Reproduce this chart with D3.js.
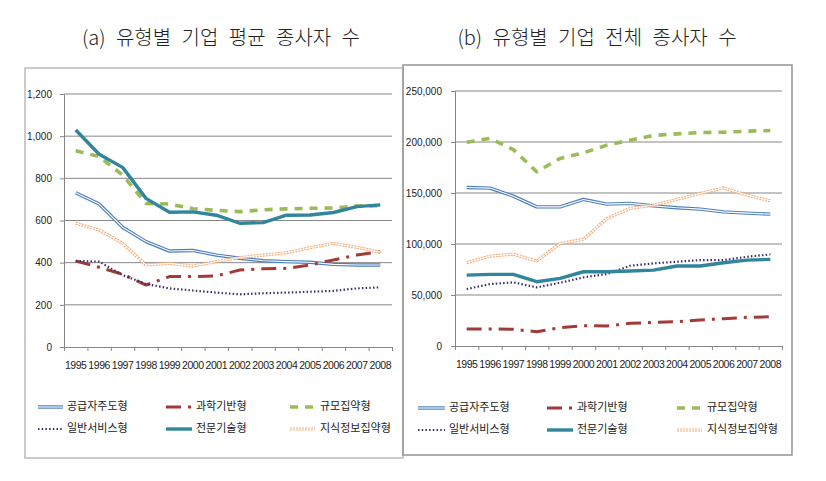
<!DOCTYPE html>
<html><head><meta charset="utf-8">
<script src="https://cdn.jsdelivr.net/npm/d3@7"></script>
<style>body{margin:0;background:#fff} svg{display:block}</style>
</head><body><svg id="c" width="826" height="481"></svg>
<script>
const years = ["1995","1996","1997","1998","1999","2000","2001","2002","2003","2004","2005","2006","2007","2008"];
const seriesNames = ["공급자주도형","과학기반형","규모집약형","일반서비스형","전문기술형","지식정보집약형"];

// (a) average employees per firm
const avgSupply    = [732,678,568,500,455,458,436,421,409,405,402,392,389,389];
const avgScience   = [408,378,345,294,334,334,337,365,371,373,389,413,436,452];
const avgScale     = [931,903,816,681,678,656,648,642,651,655,658,659,669,670];
const avgService   = [408,405,341,299,278,268,258,250,255,258,262,266,278,283];
const avgSpecial   = [1029,914,852,705,639,641,625,587,590,625,626,638,666,674];
const avgKnowledge = [587,555,492,389,397,384,405,424,436,447,471,492,473,449];

// (b) total employees
const totSupply    = [155400,154800,146900,136400,136400,143700,139100,139800,137400,135500,134200,131500,130300,129300];
const totScience   = [16700,16700,16300,14000,17900,19900,19600,22200,23200,23800,25500,26800,28100,28700];
const totScale     = [199700,203600,192500,170800,183900,189400,196900,201800,206400,208000,209300,209600,210600,211300];
const totService   = [55800,60700,62400,57500,62000,67300,70500,78700,81000,82600,84200,84200,87500,89800];
const totSpecial   = [69500,70200,70200,63000,66300,72800,72800,73500,74400,78400,78400,81600,84200,84900];
const totKnowledge = [81600,88100,90100,83300,100600,104500,125000,134900,138100,143700,149600,155000,147900,142300];

const avgTicks = [0,200,400,600,800,1000,1200];
const totTicks = [0,50000,100000,150000,200000,250000];

const titleA = "(a) 유형별 기업 평균 종사자 수";
const titleB = "(b) 유형별 기업 전체 종사자 수";

const styles = {
  "공급자주도형": [{stroke:"#4A7EBB", width:3.4}, {stroke:"#fff", width:1.1}],
  "과학기반형": [{stroke:"#A23B38", width:3, dash:"15,7,3,7"}],
  "규모집약형": [{stroke:"#9BBB59", width:3.6, dash:"8,7"}],
  "일반서비스형": [{stroke:"#3D2F6B", width:2.2, dash:"1.5,2.2"}],
  "전문기술형": [{stroke:"#31859C", width:3.4}],
  "지식정보집약형": [{stroke:"#F7AD78", width:3.2, dash:"2,1"}, {stroke:"#fff", width:1}]
};

const svg = d3.select("#c");
const FONT = "'Noto Sans CJK KR', 'Noto Sans', sans-serif";
const NUMF = "'Liberation Sans', Arial, sans-serif";

function drawChart(cfg) {
  const g = svg.append("g");
  g.append("rect").attr("x", cfg.box[0]).attr("y", cfg.box[1])
    .attr("width", cfg.box[2]-cfg.box[0]).attr("height", cfg.box[3]-cfg.box[1])
    .attr("fill", "none").attr("stroke", cfg.boxColor).attr("stroke-width", 1.6);

  const x = d3.scaleBand().domain(years).range([cfg.x0, cfg.x1]);
  const xb = d3.scaleLinear().domain([0, years.length]).range([cfg.x0, cfg.x1]);
  const y = d3.scaleLinear().domain([0, cfg.ymax]).range([cfg.y0, cfg.y1]);

  g.append("g").selectAll("line").data(cfg.ticks.filter(t => t > 0)).join("line")
    .attr("x1", cfg.x0).attr("x2", cfg.x1)
    .attr("y1", d => y(d)).attr("y2", d => y(d))
    .attr("stroke", "#868686").attr("stroke-width", 1);

  const ya = g.append("g").attr("transform", `translate(${cfg.x0},0)`)
    .call(d3.axisLeft(y).tickValues(cfg.ticks).tickSize(4).tickPadding(cfg.ypad).tickFormat(d3.format(",")));
  ya.select(".domain").attr("stroke", "#868686");
  ya.selectAll(".tick line").attr("stroke", "#868686");
  ya.selectAll("text").attr("font-family", NUMF).attr("font-size", 10).attr("fill", "#222");

  const xa = g.append("g").attr("transform", `translate(0,${cfg.y0})`)
    .call(d3.axisBottom(xb).tickValues(d3.range(0, years.length + 1)).tickSize(4).tickFormat(""));
  xa.select(".domain").attr("stroke", "#868686");
  xa.selectAll(".tick line").attr("stroke", "#868686");
  const xl = g.append("g").attr("transform", `translate(0,${cfg.y0})`)
    .call(d3.axisBottom(x).tickSize(0).tickPadding(15));
  xl.select(".domain").remove();
  xl.selectAll("text").attr("font-family", NUMF).attr("font-size", 10.5).attr("fill", "#222")
    .attr("letter-spacing", "-0.45px");

  const line = d3.line().x((d, i) => x(years[i]) + x.bandwidth() / 2).y(d => y(d));
  cfg.data.forEach((vals, k) => {
    const name = seriesNames[k];
    styles[name].forEach(s => {
      g.append("path").attr("d", line(vals)).attr("fill", "none")
        .attr("stroke", s.stroke).attr("stroke-width", s.width)
        .attr("stroke-dasharray", s.dash || null)
        .attr("stroke-linejoin", "round");
    });
  });

  svg.append("text").attr("x", cfg.titleX).attr("y", 45).attr("text-anchor", "middle")
    .attr("font-family", FONT).attr("font-size", 20).attr("font-weight", 300)
    .attr("word-spacing", "6px").attr("fill", "#222").text(cfg.title);

  const lg = g.append("g");
  seriesNames.forEach((name, k) => {
    const col = k % 3, row = Math.floor(k / 3);
    const sx = cfg.legCols[col][0], ex = cfg.legCols[col][1], tx = cfg.legCols[col][2];
    const ly = cfg.legRows[row];
    styles[name].forEach(s => {
      lg.append("line").attr("x1", sx).attr("x2", ex).attr("y1", ly).attr("y2", ly)
        .attr("stroke", s.stroke).attr("stroke-width", s.width)
        .attr("stroke-dasharray", s.dash || null);
    });
    lg.append("text").attr("x", tx).attr("y", ly).attr("dominant-baseline", "middle")
      .attr("font-family", FONT).attr("font-size", 11).attr("fill", "#222").text(name);
  });
}

drawChart({
  box: [25, 68, 403, 458], boxColor: "#BFBFBF",
  x0: 64, x1: 392, y0: 347, y1: 94, ymax: 1200, ticks: avgTicks, ypad: 8,
  data: [avgSupply, avgScience, avgScale, avgService, avgSpecial, avgKnowledge],
  title: titleA, titleX: 221,
  legCols: [[38, 63, 67], [166, 192, 196], [290, 315, 320]], legRows: [407, 429]
});
drawChart({
  box: [403, 65, 792, 455], boxColor: "#9A9A9A",
  x0: 455, x1: 782, y0: 346, y1: 91, ymax: 250000, ticks: totTicks, ypad: 9,
  data: [totSupply, totScience, totScale, totService, totSpecial, totKnowledge],
  title: titleB, titleX: 597,
  legCols: [[418, 445, 449], [547, 573, 577], [677, 702, 707]], legRows: [408, 430]
});
</script></body></html>
